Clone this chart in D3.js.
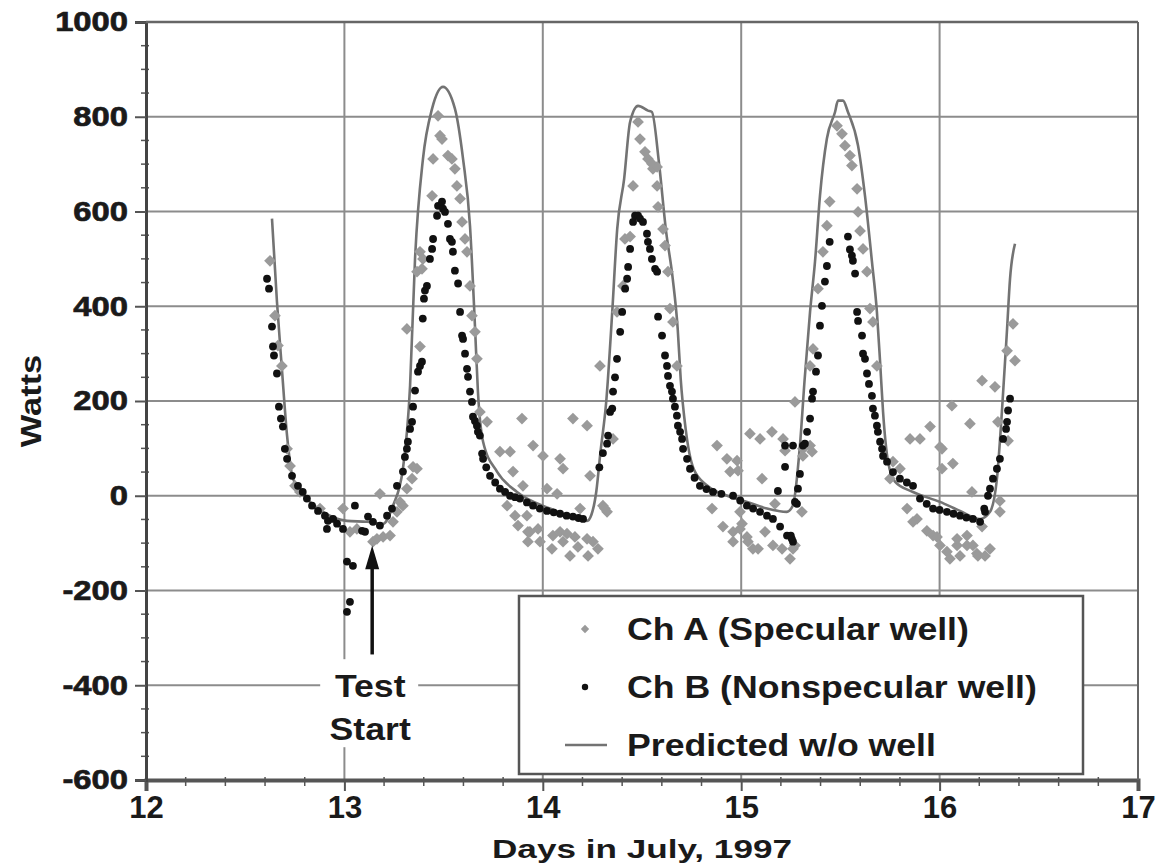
<!DOCTYPE html>
<html>
<head>
<meta charset="utf-8">
<script src="https://cdn.jsdelivr.net/npm/d3@7"></script>
<style>
  body { margin: 0; background: #fff; }
  text { font-family: "Liberation Sans", Arial, sans-serif; font-weight: bold; fill: #1a1a1a; }
</style>
</head>
<body>
<svg id="chart" width="1164" height="864"></svg>
<script>
// tick values
const xTicks = [12, 13, 14, 15, 16, 17];
const yTicks = [-600, -400, -200, 0, 200, 400, 600, 800, 1000];

// predicted heat flow without the well [day, watts]
const predicted = [
  [12.635, 585], [12.66, 410], [12.685, 268], [12.711, 127], [12.741, 36], [12.811, -6],
  [12.892, -34], [13.013, -53], [13.114, -55], [13.195, -59], [13.245, -21], [13.295, 57],
  [13.331, 232], [13.356, 500], [13.396, 711], [13.442, 817], [13.497, 863], [13.557, 817],
  [13.598, 711], [13.633, 570], [13.658, 359], [13.673, 220], [13.699, 114], [13.769, 51],
  [13.87, 8], [14.036, -27], [14.223, -53], [14.245, -40], [14.27, 10], [14.29, 90],
  [14.32, 200], [14.35, 388], [14.375, 563], [14.41, 669], [14.44, 789], [14.48, 823],
  [14.53, 813], [14.55, 810], [14.585, 705], [14.62, 563], [14.655, 458], [14.68, 352],
  [14.695, 247], [14.72, 141], [14.76, 57], [14.83, 21], [14.93, 0], [15.03, -13],
  [15.13, -27], [15.23, -34], [15.26, -21], [15.296, 106], [15.32, 247], [15.347, 388],
  [15.372, 494], [15.397, 633], [15.432, 754], [15.473, 810], [15.488, 834], [15.513, 834],
  [15.538, 810], [15.589, 739], [15.624, 633], [15.659, 494], [15.684, 388], [15.70, 283],
  [15.715, 177], [15.74, 72], [15.775, 30], [15.866, 8], [16.002, -13], [16.103, -32],
  [16.204, -49], [16.254, -34], [16.289, 36], [16.314, 177], [16.34, 352], [16.355, 458],
  [16.38, 532]
];

// Ch A (specular well) [day, watts]
const chA = [
  [12.625, 496], [12.650, 380], [12.665, 317], [12.685, 274], [12.711, 99], [12.726, 63],
  [12.751, 21], [12.776, 8], [12.877, -27], [12.993, -27], [13.028, -76], [13.063, -70],
  [13.144, -97], [13.164, -91], [13.179, 4], [13.195, -87], [13.230, -84], [13.245, -55],
  [13.265, -34], [13.280, -13], [13.295, -21], [13.315, 15], [13.315, 352], [13.341, 36],
  [13.346, 61], [13.366, 57], [13.366, 473], [13.381, 315], [13.381, 515], [13.391, 479],
  [13.396, 500], [13.442, 633], [13.447, 711], [13.472, 802], [13.482, 760], [13.492, 753],
  [13.522, 718], [13.542, 711], [13.557, 690], [13.567, 654], [13.583, 627], [13.593, 578],
  [13.608, 542], [13.618, 515], [13.633, 443], [13.643, 380], [13.658, 346], [13.668, 289],
  [13.683, 177], [13.719, 156], [13.784, 93], [13.820, -21], [13.835, 93], [13.850, 51],
  [13.860, -42], [13.875, -63], [13.895, 163], [13.900, 21], [13.920, -42], [13.925, -76],
  [13.925, -97], [13.935, -76], [13.951, 106], [13.976, -70], [13.986, -97], [14.001, 84],
  [14.021, 15], [14.046, -112], [14.051, -84], [14.072, 4], [14.087, 78], [14.087, -76],
  [14.102, 57], [14.102, -97], [14.122, -80], [14.137, -127], [14.152, 163], [14.162, -87],
  [14.177, -108], [14.188, -27], [14.223, 148], [14.223, -91], [14.228, -127], [14.238, 42],
  [14.253, -97], [14.278, -112], [14.288, 274], [14.303, -21], [14.313, -27], [14.324, -34],
  [14.354, 120], [14.374, 388], [14.404, 443], [14.414, 542], [14.440, 547], [14.455, 654],
  [14.480, 789], [14.490, 753], [14.515, 726], [14.530, 711], [14.550, 701], [14.555, 690],
  [14.576, 694], [14.576, 654], [14.581, 610], [14.606, 563], [14.616, 528], [14.631, 473],
  [14.641, 395], [14.656, 367], [14.676, 274], [14.853, -27], [14.878, 106], [14.908, -65],
  [14.928, 78], [14.944, 51], [14.959, -76], [14.959, -97], [14.979, 74], [14.984, 53],
  [14.994, -34], [14.994, -70], [15.004, -59], [15.029, -87], [15.034, -97], [15.044, 131],
  [15.059, -112], [15.085, -112], [15.095, 120], [15.105, 36], [15.120, -76], [15.155, 135],
  [15.160, -105], [15.170, -17], [15.206, -112], [15.211, 120], [15.221, 95], [15.246, -133],
  [15.261, -112], [15.271, 198], [15.271, -105], [15.306, -34], [15.311, 99], [15.311, 84],
  [15.347, 106], [15.347, 274], [15.357, 93], [15.362, 310], [15.387, 437], [15.412, 515],
  [15.432, 570], [15.446, 621], [15.483, 781], [15.508, 764], [15.523, 739], [15.548, 718],
  [15.558, 697], [15.584, 648], [15.589, 599], [15.599, 559], [15.614, 521], [15.634, 473],
  [15.649, 395], [15.664, 367], [15.684, 274], [15.750, 36], [15.765, 72], [15.800, 57],
  [15.836, -27], [15.851, 120], [15.866, -55], [15.886, -49], [15.901, 120], [15.936, -74],
  [15.952, 146], [15.967, -84], [15.987, -87], [16.002, 103], [16.002, -105], [16.012, 99],
  [16.012, 57], [16.037, -118], [16.052, -133], [16.062, 190], [16.067, 68], [16.088, -105],
  [16.088, -91], [16.103, -127], [16.138, -84], [16.138, -105], [16.153, 152], [16.163, 8],
  [16.168, -105], [16.188, -122], [16.193, -127], [16.214, 243], [16.214, -65], [16.229, -127],
  [16.254, -112], [16.279, 230], [16.294, 156], [16.304, -11], [16.304, -34], [16.340, 306],
  [16.345, 116], [16.370, 363], [16.380, 285]
];

// Ch B (nonspecular well) [day, watts]
const chB = [
  [12.610, 458], [12.620, 437], [12.635, 357], [12.640, 315], [12.645, 296], [12.660, 258],
  [12.670, 188], [12.680, 163], [12.690, 146], [12.700, 99], [12.711, 78], [12.736, 42],
  [12.766, 21], [12.790, 8], [12.811, -6], [12.837, -21], [12.867, -32], [12.902, -42],
  [12.917, -53], [12.912, -70], [12.943, -49], [12.963, -59], [12.993, -70], [13.013, -139],
  [13.043, -148], [13.028, -224], [13.013, -245], [13.053, -21], [13.089, -74], [13.104, -76],
  [13.119, -44], [13.144, -55], [13.179, -63], [13.215, -42], [13.240, -27], [13.265, 21],
  [13.295, 51], [13.305, 82], [13.315, 99], [13.320, 114], [13.331, 141], [13.341, 156],
  [13.346, 188], [13.356, 222], [13.371, 262], [13.381, 274], [13.391, 283], [13.395, 374],
  [13.401, 416], [13.406, 433], [13.416, 443], [13.431, 500], [13.442, 521], [13.447, 542],
  [13.467, 591], [13.472, 612], [13.492, 621], [13.497, 606], [13.507, 599], [13.522, 574],
  [13.532, 542], [13.542, 536], [13.547, 515], [13.557, 475], [13.573, 448], [13.583, 388],
  [13.593, 338], [13.598, 331], [13.608, 300], [13.618, 268], [13.623, 251], [13.633, 220],
  [13.643, 198], [13.648, 167], [13.658, 158], [13.668, 148], [13.673, 135], [13.683, 127],
  [13.694, 89], [13.699, 78], [13.715, 60], [13.734, 42], [13.760, 28], [13.784, 15],
  [13.810, 8], [13.835, 0], [13.860, -3], [13.885, -6], [13.920, -14], [13.951, -21],
  [13.985, -27], [14.021, -32], [14.055, -35], [14.087, -38], [14.120, -42], [14.152, -44],
  [14.180, -47], [14.203, -49], [14.285, 60], [14.303, 90], [14.324, 110], [14.329, 127],
  [14.339, 177], [14.350, 184], [14.354, 220], [14.364, 250], [14.374, 289], [14.390, 346],
  [14.400, 388], [14.415, 437], [14.425, 458], [14.430, 483], [14.440, 521], [14.455, 578],
  [14.465, 591], [14.480, 591], [14.490, 585], [14.505, 578], [14.525, 553], [14.530, 536],
  [14.540, 521], [14.550, 500], [14.566, 479], [14.576, 473], [14.581, 378], [14.601, 338],
  [14.616, 296], [14.626, 274], [14.631, 253], [14.641, 232], [14.651, 220], [14.656, 205],
  [14.666, 188], [14.676, 169], [14.681, 148], [14.692, 135], [14.702, 120], [14.707, 99],
  [14.727, 78], [14.742, 57], [14.765, 38], [14.792, 21], [14.825, 14], [14.858, 8],
  [14.900, 4], [14.959, 0], [14.995, -10], [15.029, -21], [15.060, -27], [15.095, -34],
  [15.130, -42], [15.160, -49], [15.196, -65], [15.231, -84], [15.250, -84], [15.261, -97],
  [15.255, -91], [15.185, 10], [15.221, 61], [15.221, 106], [15.261, 106], [15.281, -17],
  [15.286, 15], [15.296, 46], [15.271, -13], [15.311, 106], [15.321, 110], [15.332, 135],
  [15.347, 163], [15.357, 205], [15.362, 220], [15.377, 262], [15.387, 296], [15.397, 359],
  [15.407, 401], [15.422, 452], [15.432, 485], [15.446, 536], [15.538, 547], [15.548, 520],
  [15.558, 507], [15.563, 496], [15.574, 469], [15.584, 388], [15.589, 369], [15.609, 338],
  [15.614, 300], [15.624, 289], [15.634, 258], [15.644, 236], [15.659, 211], [15.664, 184],
  [15.674, 169], [15.684, 148], [15.689, 135], [15.700, 114], [15.710, 99], [15.715, 84],
  [15.735, 72], [15.765, 50], [15.800, 36], [15.835, 28], [15.866, 21], [15.901, -6],
  [15.935, -17], [15.967, -27], [16.000, -30], [16.037, -34], [16.070, -38], [16.103, -42],
  [16.135, -46], [16.168, -49], [16.204, -55], [16.229, -34], [16.225, -27], [16.244, 0],
  [16.254, 15], [16.269, 36], [16.289, 57], [16.304, 78], [16.320, 120], [16.335, 141],
  [16.340, 156], [16.345, 180], [16.355, 205]
];

const legendLabels = ["Ch A (Specular well)", "Ch B (Nonspecular well)", "Predicted w/o well"];

const svg = d3.select("#chart");
const plotLeft = 146, plotRight = 1138, plotTop = 22, plotBottom = 780;

const x = d3.scaleLinear().domain([12, 17]).range([plotLeft, plotRight]);
const y = d3.scaleLinear().domain([-600, 1000]).range([plotBottom, plotTop]);

const gridColor = "#8c8c8c";
const wide = "scale(1.15,1)"; // the source lettering is a bit wider than Liberation Sans

// --- grid ---
const grid = svg.append("g");
grid.selectAll(".gx").data(xTicks.slice(1)).join("line")
  .attr("x1", d => x(d)).attr("x2", d => x(d))
  .attr("y1", plotTop).attr("y2", plotBottom)
  .attr("stroke", gridColor).attr("stroke-width", 2);
grid.selectAll(".gy").data(yTicks.slice(1)).join("line")
  .attr("x1", plotLeft).attr("x2", plotRight)
  .attr("y1", d => y(d)).attr("y2", d => y(d))
  .attr("stroke", gridColor).attr("stroke-width", 2);

// --- minor ticks ---
const xMinor = d3.range(12, 17.001, 0.2).filter(v => Math.abs(v - Math.round(v)) > 0.01);
const yMinor = d3.range(-600, 1000, 50).filter(v => v % 200 !== 0);
svg.append("g").selectAll("line").data(xMinor).join("line")
  .attr("x1", d => x(d)).attr("x2", d => x(d))
  .attr("y1", plotBottom - 3).attr("y2", plotBottom + 6)
  .attr("stroke", "#555").attr("stroke-width", 1.5);
svg.append("g").selectAll("line").data(yMinor).join("line")
  .attr("x1", plotLeft - 5).attr("x2", plotLeft + 3)
  .attr("y1", d => y(d)).attr("y2", d => y(d))
  .attr("stroke", "#555").attr("stroke-width", 1.5);

// --- axes ---
const xAxis = d3.axisBottom(x).tickValues(xTicks).tickSize(11).tickPadding(5).tickFormat(d => String(d));
svg.append("g")
  .attr("transform", `translate(0,${plotBottom})`)
  .call(xAxis)
  .call(g => g.select(".domain").attr("stroke", "#555").attr("stroke-width", 4))
  .call(g => g.selectAll(".tick line").attr("stroke", "#555").attr("stroke-width", 2))
  .call(g => g.selectAll("text").attr("font-size", 31).attr("fill", "#1a1a1a")
    .attr("font-family", "Liberation Sans").attr("font-weight", "bold"));

const yAxis = d3.axisLeft(y).tickValues(yTicks).tickSize(11).tickPadding(6).tickFormat(d => String(d));
svg.append("g")
  .attr("transform", `translate(${plotLeft},0)`)
  .call(yAxis)
  .call(g => g.select(".domain").attr("stroke", "#444").attr("stroke-width", 3))
  .call(g => g.selectAll(".tick line").attr("stroke", "#555").attr("stroke-width", 2))
  .call(g => g.selectAll("text").attr("font-size", 28).attr("fill", "#1a1a1a")
    .attr("stroke", "#1a1a1a").attr("stroke-width", 0.7)
    .attr("font-family", "Liberation Sans").attr("font-weight", "bold")
    .attr("x", 0).attr("transform", "translate(-18,0) scale(1.17,1)"));

// right and top frame
svg.append("line").attr("x1", plotLeft).attr("x2", plotRight).attr("y1", plotTop).attr("y2", plotTop)
  .attr("stroke", "#666").attr("stroke-width", 2.5);
svg.append("line").attr("x1", plotRight).attr("x2", plotRight).attr("y1", plotTop).attr("y2", plotBottom)
  .attr("stroke", "#666").attr("stroke-width", 2);

// axis titles
svg.append("text")
  .attr("x", (plotLeft + plotRight) / 2).attr("y", 858)
  .attr("text-anchor", "middle").attr("font-size", 25)
  .attr("textLength", 300).attr("lengthAdjust", "spacingAndGlyphs")
  .text("Days in July, 1997");
svg.append("text")
  .attr("transform", `translate(41,${y(200)}) rotate(-90) scale(1.15,1)`)
  .attr("text-anchor", "middle").attr("font-size", 30)
  .text("Watts");

// --- series ---
const plot = svg.append("g");
const diamond = d3.symbol().type(d3.symbolDiamond2).size(88);

plot.append("path")
  .datum(predicted)
  .attr("fill", "none")
  .attr("stroke", "#737373")
  .attr("stroke-width", 2.6)
  .attr("stroke-linejoin", "round")
  .attr("d", d3.line().x(d => x(d[0])).y(d => y(d[1])).curve(d3.curveMonotoneX));

plot.selectAll(".a").data(chA).join("path")
  .attr("transform", d => `translate(${x(d[0])},${y(d[1])})`)
  .attr("d", diamond)
  .attr("fill", "#9a9a9a");

plot.selectAll(".b").data(chB).join("circle")
  .attr("cx", d => x(d[0])).attr("cy", d => y(d[1]))
  .attr("r", 3.9)
  .attr("fill", "#111");

// --- Test Start annotation ---
const ann = svg.append("g");
const annDay = 13.13;
ann.append("rect")
  .attr("x", x(annDay) - 50).attr("y", y(-345))
  .attr("width", 98).attr("height", 88)
  .attr("fill", "#fff");
ann.append("text").attr("transform", `translate(${x(annDay)},${y(-400) + 12}) ${wide}`)
  .attr("text-anchor", "middle").attr("font-size", 31).text("Test");
ann.append("text").attr("transform", `translate(${x(annDay)},${y(-400) + 55}) ${wide}`)
  .attr("text-anchor", "middle").attr("font-size", 31).text("Start");
ann.append("line")
  .attr("x1", x(13.14)).attr("x2", x(13.14))
  .attr("y1", y(-335)).attr("y2", y(-150))
  .attr("stroke", "#111").attr("stroke-width", 3.5);
ann.append("path")
  .attr("d", `M${x(13.14)},${y(-105)} L${x(13.14) - 7},${y(-155)} L${x(13.14) + 7},${y(-155)} Z`)
  .attr("fill", "#111");

// --- legend ---
const lg = svg.append("g").attr("transform", "translate(519,596)");
lg.append("rect").attr("width", 564).attr("height", 178)
  .attr("fill", "#fff").attr("stroke", "#555").attr("stroke-width", 2.5);
const rowY = [33, 91, 149];
lg.append("path").attr("transform", `translate(66,${rowY[0]})`)
  .attr("d", d3.symbol().type(d3.symbolDiamond2).size(45)).attr("fill", "#9a9a9a");
lg.append("circle").attr("cx", 66).attr("cy", rowY[1]).attr("r", 3.2).attr("fill", "#111");
lg.append("line").attr("x1", 46).attr("x2", 88).attr("y1", rowY[2]).attr("y2", rowY[2])
  .attr("stroke", "#737373").attr("stroke-width", 2.6);
lg.selectAll(".lt").data(legendLabels).join("text")
  .attr("transform", (d, i) => `translate(108,${rowY[i] + 11}) ${wide}`)
  .attr("font-size", 31)
  .text(d => d);
</script>
</body>
</html>
